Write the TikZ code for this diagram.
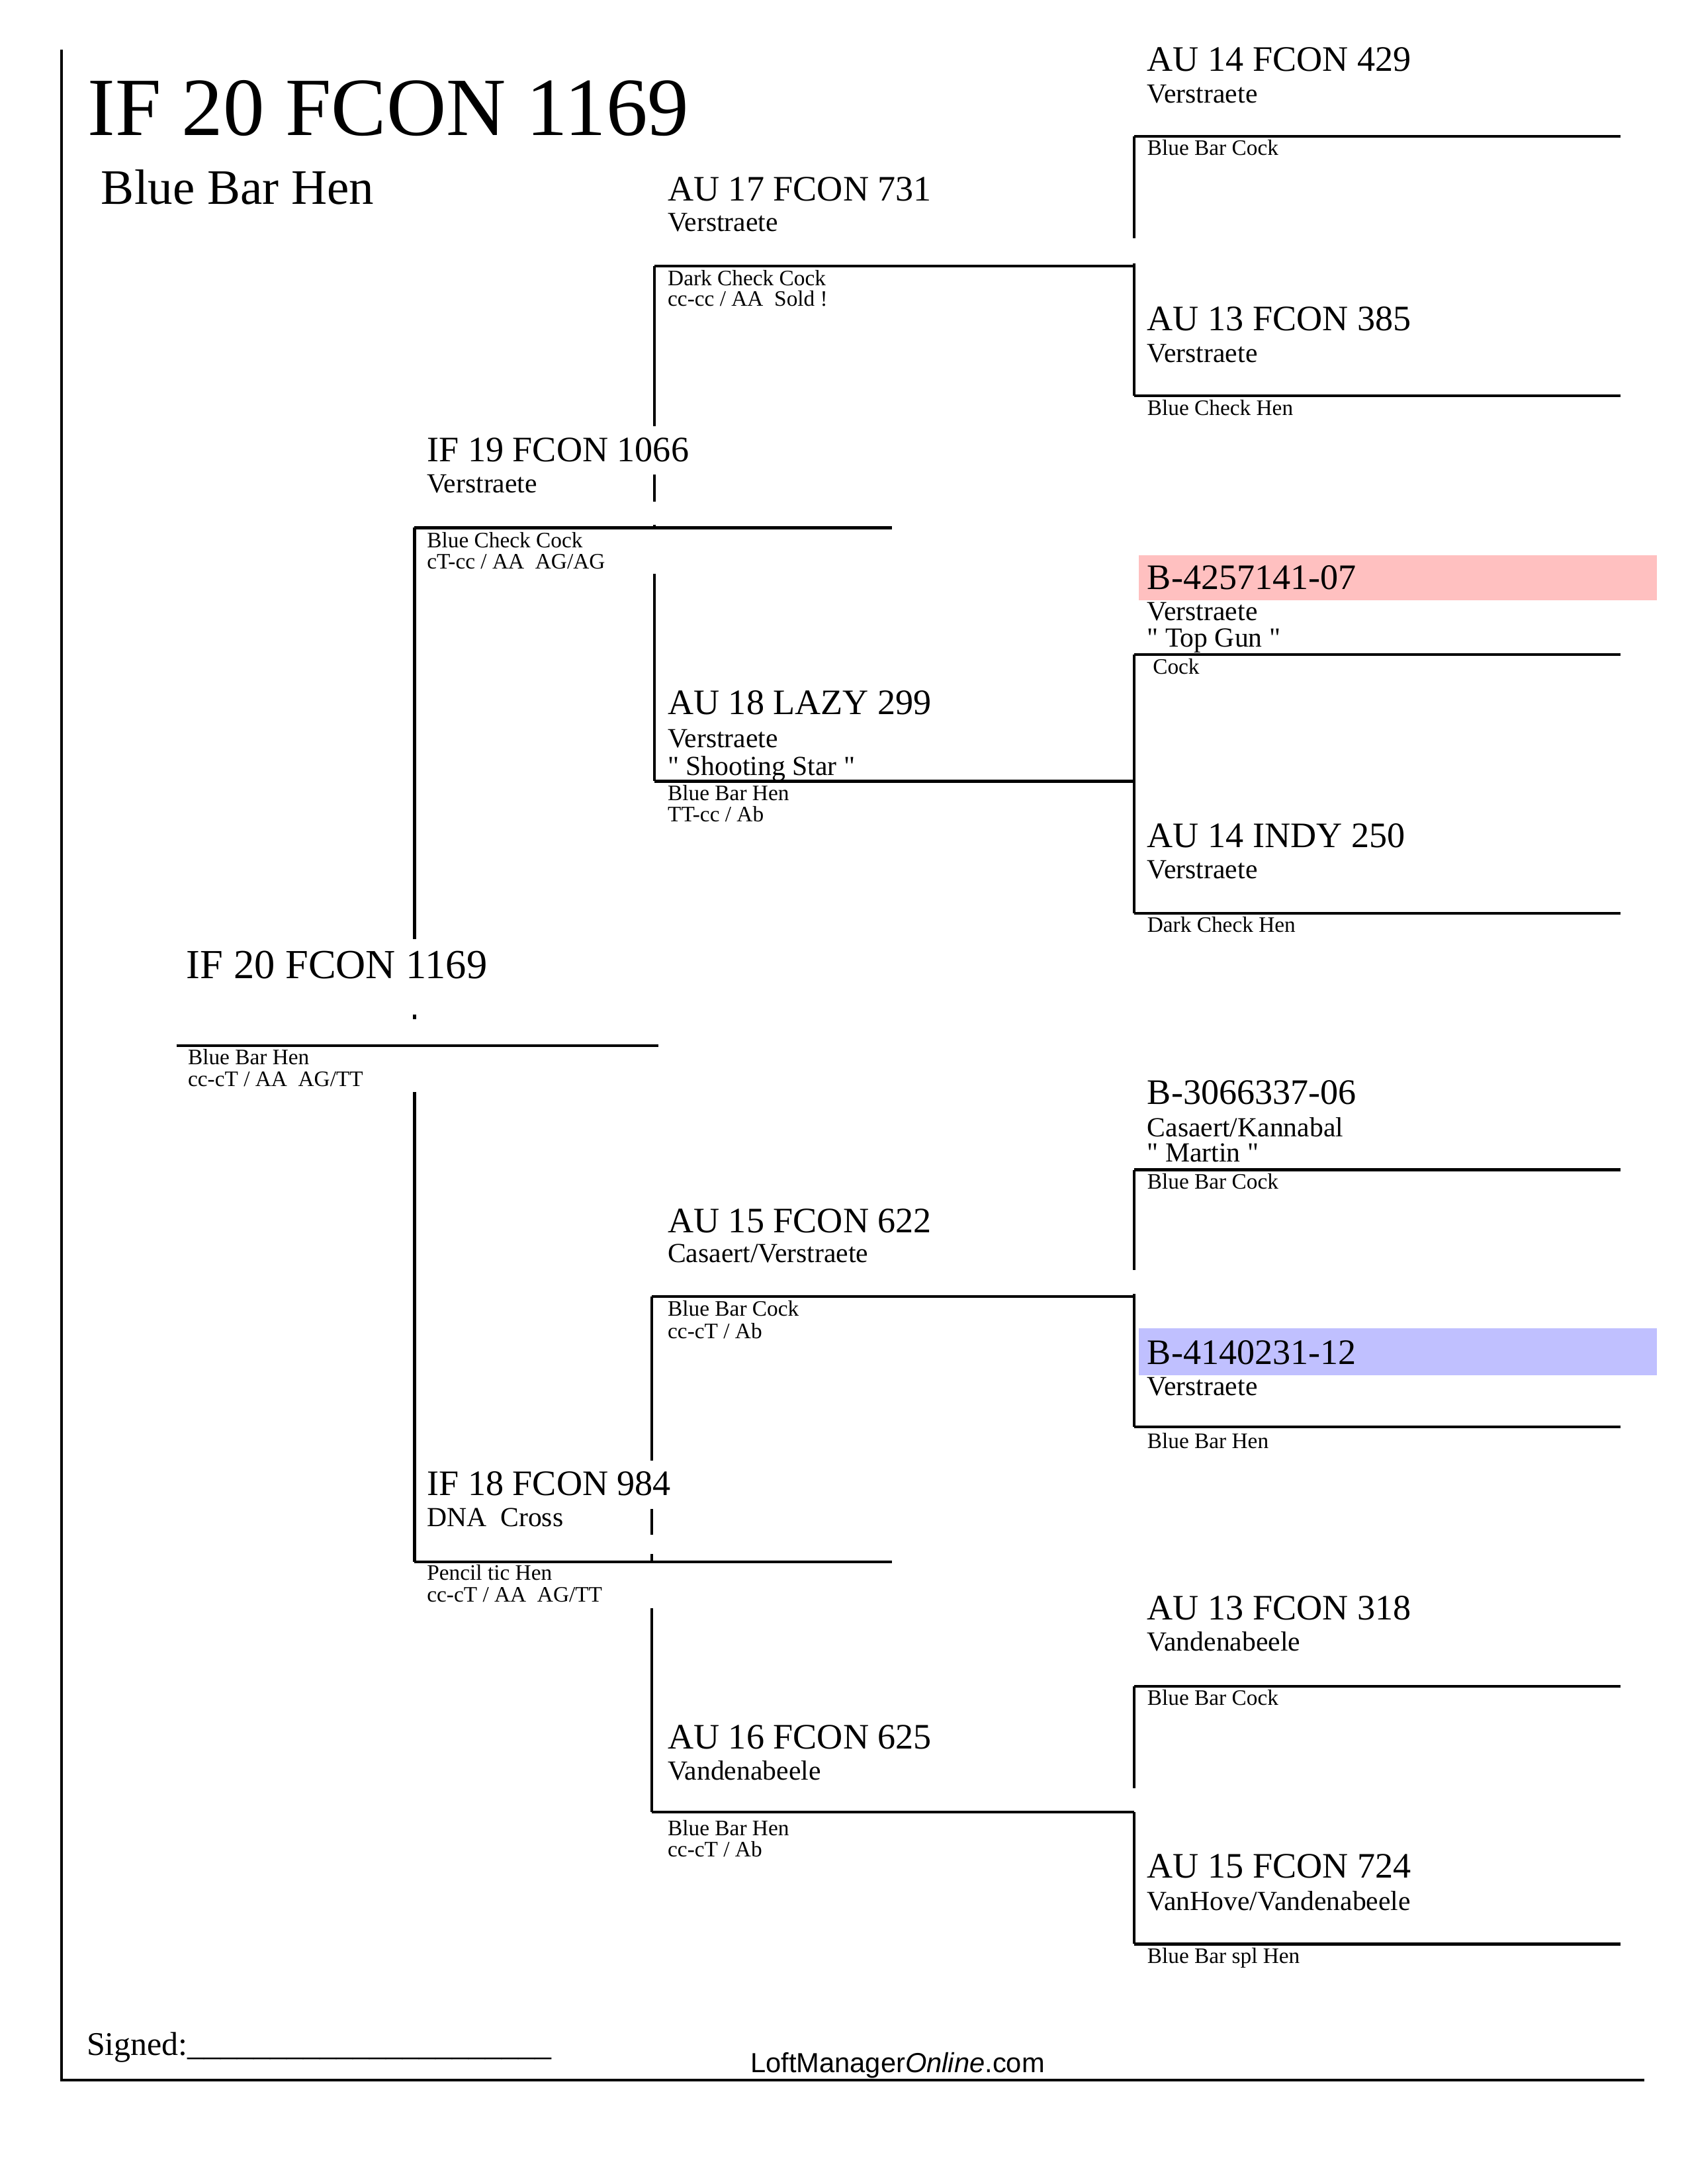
\documentclass[tikz,border=0pt]{standalone}
\usepackage{fontspec}
\setmainfont{Liberation Serif}
\newfontfamily\webfont{Liberation Sans}
\definecolor{cockpink}{RGB}{255,192,192}
\definecolor{henblue}{RGB}{192,192,255}
\newcommand{\qt}{\textquotedbl}

\begin{document}
\begin{tikzpicture}[x=0.505pt,y=-0.505pt,
    every node/.style={anchor=base west,inner sep=0pt,outer sep=0pt},
    headline/.style={font=\fontsize{30}{36}\selectfont},
    headcolor/.style={font=\fontsize{18}{22}\selectfont},
    rootname/.style={font=\fontsize{15}{18}\selectfont},
    pname/.style={font=\fontsize{13}{16}\selectfont},
    pline/.style={font=\fontsize{10}{12}\selectfont},
    pnote/.style={font=\fontsize{8}{10}\selectfont},
    bracket/.style={line width=1pt}]
    \useasboundingbox (0,0) rectangle (1212,1568.3);

    % frame
    \draw[bracket] (44.3,35.7) -- (44.3,1493.7) -- (1181,1493.7);
    \node[headline] (head) at (63,97.3) {IF 20 FCON 1169};
    \node[headcolor] (headc) at (72.7,146.7) {Blue Bar Hen};

    % highlighted bands
    \fill[cockpink] (818,398.7) rectangle (1190,431);
    \fill[henblue] (818,954) rectangle (1190,987.5);

    % root
    \node[rootname] (p) at (134,702.7) {IF 20 FCON 1169};
    \node[pnote] (p-c1) at (135,764.4) {Blue Bar Hen};
    \node[pnote] (p-c2) at (135,780) {cc-cT / AA\ \ AG/TT};
    \draw[bracket] (126.7,751) -- (472.7,751);

    % parents
    \node[pname] (ps) at (306.7,331.7) {IF 19 FCON 1066};
    \node[pline] (ps-1) at (306.7,354) {Verstraete};
    \node[pnote] (ps-c1) at (306.7,393.3) {Blue Check Cock};
    \node[pnote] (ps-c2) at (306.7,408.3) {cT-cc / AA\ \ AG/AG};
    \node[pname] (pd) at (306.7,1073.7) {IF 18 FCON 984};
    \node[pline] (pd-1) at (306.7,1096) {DNA\ \ Cross};
    \node[pnote] (pd-c1) at (306.7,1134.7) {Pencil tic Hen};
    \node[pnote] (pd-c2) at (306.7,1150.4) {cc-cT / AA\ \ AG/TT};
    \draw[bracket] (297.7,379) -- (640.6,379);
    \draw[bracket] (297.7,1121.4) -- (640.6,1121.4);
    \draw[bracket] (297.7,379) -- (297.7,674.3) (297.7,728.7) -- (297.7,732)
        (297.7,784.3) -- (297.7,1121.4);

    % grandparents
    \node[pname] (pss) at (479.6,144) {AU 17 FCON 731};
    \node[pline] (pss-1) at (479.6,166) {Verstraete};
    \node[pnote] (pss-c1) at (479.6,205) {Dark Check Cock};
    \node[pnote] (pss-c2) at (479.6,220) {cc-cc / AA\ \ Sold !};
    \node[pname] (psd) at (479.6,513) {AU 18 LAZY 299};
    \node[pline] (psd-1) at (479.6,537) {Verstraete};
    \node[pline] (psd-2) at (479.6,556.6) {\qt{} Shooting Star \qt};
    \node[pnote] (psd-c1) at (479.6,574.6) {Blue Bar Hen};
    \node[pnote] (psd-c2) at (479.6,590) {TT-cc / Ab};
    \node[pname] (pds) at (479.6,885) {AU 15 FCON 622};
    \node[pline] (pds-1) at (479.6,906.7) {Casaert/Verstraete};
    \node[pnote] (pds-c1) at (479.6,945) {Blue Bar Cock};
    \node[pnote] (pds-c2) at (479.6,961) {cc-cT / Ab};
    \node[pname] (pdd) at (479.6,1256) {AU 16 FCON 625};
    \node[pline] (pdd-1) at (479.6,1278) {Vandenabeele};
    \node[pnote] (pdd-c1) at (479.6,1318) {Blue Bar Hen};
    \node[pnote] (pdd-c2) at (479.6,1333.5) {cc-cT / Ab};
    \draw[bracket] (470,191) -- (814.5,191);
    \draw[bracket] (470,561) -- (814.5,561);
    \draw[bracket] (468,931) -- (814.5,931);
    \draw[bracket] (468,1301) -- (814.5,1301);
    \draw[bracket] (470,191) -- (470,306) (470,340.7) -- (470,360)
        (470,376.7) -- (470,379) (470,412) -- (470,561);
    \draw[bracket] (468,931) -- (468,1049) (468,1083.7) -- (468,1102)
        (468,1116) -- (468,1121.4) (468,1154.7) -- (468,1301);

    % great-grandparents
    \node[pname] (psss) at (824,51) {AU 14 FCON 429};
    \node[pline] (psss-1) at (824,73.7) {Verstraete};
    \node[pnote] (psss-c1) at (824,111.6) {Blue Bar Cock};
    \node[pname] (pssd) at (824,237.6) {AU 13 FCON 385};
    \node[pline] (pssd-1) at (824,260) {Verstraete};
    \node[pnote] (pssd-c1) at (824,298) {Blue Check Hen};
    \node[pname] (psds) at (824,423) {B-4257141-07};
    \node[pline] (psds-1) at (824,445.7) {Verstraete};
    \node[pline] (psds-2) at (824,464.5) {\qt{} Top Gun \qt};
    \node[pnote] (psds-c1) at (828,484) {Cock};
    \node[pname] (psdd) at (824,608.6) {AU 14 INDY 250};
    \node[pline] (psdd-1) at (824,631) {Verstraete};
    \node[pnote] (psdd-c1) at (824,669.6) {Dark Check Hen};
    \node[pname] (pdss) at (824,792.8) {B-3066337-06};
    \node[pline] (pdss-1) at (824,816) {Casaert/Kannabal};
    \node[pline] (pdss-2) at (824,834.5) {\qt{} Martin \qt};
    \node[pnote] (pdss-c1) at (824,854) {Blue Bar Cock};
    \node[pname] (pdsd) at (824,979.6) {B-4140231-12};
    \node[pline] (pdsd-1) at (824,1001.8) {Verstraete};
    \node[pnote] (pdsd-c1) at (824,1040) {Blue Bar Hen};
    \node[pname] (pdds) at (824,1163) {AU 13 FCON 318};
    \node[pline] (pdds-1) at (824,1185.7) {Vandenabeele};
    \node[pnote] (pdds-c1) at (824,1224.6) {Blue Bar Cock};
    \node[pname] (pddd) at (824,1348.7) {AU 15 FCON 724};
    \node[pline] (pddd-1) at (824,1372) {VanHove/Vandenabeele};
    \node[pnote] (pddd-c1) at (824,1410) {Blue Bar spl Hen};
    \foreach \y in {98,284,470,656,840,1024.5,1211,1396}
        \draw[bracket] (814.5,\y) -- (1164,\y);
    \draw[bracket] (814.5,98) -- (814.5,171) (814.5,189) -- (814.5,284);
    \draw[bracket] (814.5,470) -- (814.5,656);
    \draw[bracket] (814.5,840) -- (814.5,912) (814.5,929) -- (814.5,1024.5);
    \draw[bracket] (814.5,1211) -- (814.5,1284) (814.5,1301) -- (814.5,1396);

    % footer
    \node[font=\fontsize{12}{14}\selectfont] (sign) at (62.3,1476)
        {Signed:\_\_\_\_\_\_\_\_\_\_\_\_\_\_\_\_\_\_\_\_\_\_};
    \node[font=\webfont\fontsize{10}{12}\selectfont] (site) at (539,1488)
        {LoftManager\textit{Online}.com};
\end{tikzpicture}
\end{document}
